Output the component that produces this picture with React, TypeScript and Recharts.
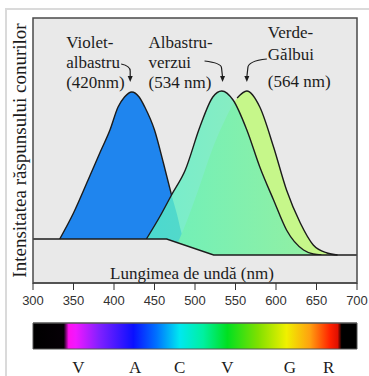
import React from "react";
import {
  ComposedChart,
  Area,
  Line,
  XAxis,
  YAxis,
  CartesianGrid,
  ReferenceArea,
  ReferenceDot,
} from "recharts";

// wavelength (nm) ticks on the axis
const axisTicks = [300, 350, 400, 450, 500, 550, 600, 650, 700];

// response curves (arbitrary intensity units)
const blueNm = [333, 350, 368, 383, 395, 405, 413, 422, 431, 438, 450, 461, 471, 478, 483, 488];
const blueVal = [44, 70, 103, 131, 153, 176, 186, 191, 186, 176, 153, 120, 88, 68, 51, 38];

const greenNm = [440, 457, 471, 488, 506, 522, 533, 547, 564, 580, 597, 613, 634, 646, 656];
const greenVal = [44, 67, 88, 113, 156, 186, 192, 183, 153, 116, 83, 53, 33, 29, 28];

const yellowNm = [472, 488, 504, 521, 537, 552, 564, 580, 597, 613, 630, 646, 663, 676];
const yellowVal = [28, 58, 93, 133, 163, 185, 192, 176, 136, 93, 60, 38, 30, 28];

// floor line under the curves
const baseNm = [300, 465, 523, 700];
const baseVal = [44, 44, 28, 28];

// peak labels
const peakNm = [420, 534, 564];
const peakLines = [
  ["Violet-", "albastru", "(420nm)"],
  ["Albastru-", "verzui", "(534 nm)"],
  ["Verde-", "Gălbui", "(564 nm)"],
];
const arrowTip = 201;

// colour names under the spectrum
const letterNm = [356, 426, 481, 540, 617, 665];
const letters = ["V", "A", "C", "V", "G", "R"];

const spectrumStops: [number, string][] = [
  [300, "#000000"],
  [338, "#060006"],
  [344, "#ff10f0"],
  [353, "#f018ff"],
  [382, "#8020ff"],
  [424, "#0a10ff"],
  [452, "#0070ff"],
  [481, "#00e8f0"],
  [510, "#00f0a0"],
  [540, "#00e020"],
  [578, "#80e000"],
  [613, "#f0f000"],
  [642, "#ffa010"],
  [667, "#ff2000"],
  [676, "#e01000"],
  [681, "#000000"],
  [700, "#000000"],
];

const rows = (nm: number[], v: number[]) => nm.map((x, i) => ({ nm: x, v: v[i] }));

const blueRows = rows(blueNm, blueVal);
const greenRows = rows(greenNm, greenVal);
const yellowRows = rows(yellowNm, yellowVal);
const baseRows = rows(baseNm, baseVal);
// parts of the outlines that are not under the green curve
const blueEdge = blueRows.filter((d) => d.nm <= 471);
const yellowEdge = yellowRows.filter((d) => d.nm >= 552);
const spectrumRows = [
  { nm: 300, v: 1 },
  { nm: 700, v: 1 },
];

const serif = "'Liberation Serif', 'Times New Roman', serif";
const plotBg = "#e9e9e9";
const ink = "#1c1c1c";

// text + arrow placement relative to the arrow tip
const annoLayout = [
  { dx: -64, ys: [-34, -14, 6], start: [-9, -18], knee: [0, -11] },
  { dx: -74, ys: [-34, -14, 6], start: [-18, -21], knee: [-1, -14] },
  { dx: 21, ys: [-44, -22, 5], start: [20, -23], knee: [1, -14] },
];

const PeakNote = (props: any) => {
  const { cx, cy, idx } = props;
  if (cx == null || cy == null) return null;
  const lay = annoLayout[idx];
  const [sx, sy] = lay.start;
  const [kx, ky] = lay.knee;
  return (
    <g>
      {peakLines[idx].map((t, i) => (
        <text
          key={i}
          x={cx + lay.dx}
          y={cy + lay.ys[i]}
          fontFamily={serif}
          fontSize={17}
          fill={ink}
        >
          {t}
        </text>
      ))}
      <path
        d={`M${cx + sx},${cy + sy} Q${cx + kx},${cy + sy + 2} ${cx + kx},${cy + ky} L${cx},${cy - 5}`}
        fill="none"
        stroke={ink}
        strokeWidth={1.2}
      />
      <path d={`M${cx - 2.5},${cy - 6} L${cx + 2.5},${cy - 6} L${cx},${cy} Z`} fill={ink} />
    </g>
  );
};

const App = () => {
  return (
    <div
      style={{
        position: "absolute",
        left: 0,
        top: 0,
        width: 369,
        height: 376,
        background: "#ffffff",
        overflow: "hidden",
      }}
    >
      <div
        style={{
          position: "absolute",
          left: 5,
          top: 8,
          width: 364,
          height: 368,
          borderTop: "2px solid #dadada",
          borderLeft: "2px solid #dadada",
        }}
      />
      <div style={{ position: "absolute", left: 0, top: 0 }}>
        <ComposedChart
          width={369}
          height={320}
          margin={{ top: 18, right: 12, left: 0, bottom: 7 }}
        >
          <defs>
            <linearGradient id="greenFill" x1="0" y1="0" x2="1" y2="0">
              <stop offset="0%" stopColor="#55eec8" />
              <stop offset="100%" stopColor="#88eea8" />
            </linearGradient>
          </defs>
          <CartesianGrid fill={plotBg} horizontal={false} vertical={false} />
          <YAxis
            type="number"
            domain={[0, 265]}
            width={33}
            tick={false}
            axisLine={false}
            tickLine={false}
            label={{
              value: "Intensitatea răspunsului conurilor",
              angle: -90,
              position: "center",
              dx: 3,
              fontFamily: serif,
              fontSize: 19,
              fill: ink,
            }}
          />
          <Area
            data={blueRows}
            dataKey="v"
            type="monotone"
            fill="#1f85ee"
            fillOpacity={1}
            stroke="none"
            isAnimationActive={false}
          />
          <Area
            data={yellowRows}
            dataKey="v"
            type="monotone"
            fill="#c6f78a"
            fillOpacity={1}
            stroke="none"
            isAnimationActive={false}
          />
          <Area
            data={greenRows}
            dataKey="v"
            type="monotone"
            fill="url(#greenFill)"
            fillOpacity={0.8}
            stroke={ink}
            strokeWidth={1.4}
            isAnimationActive={false}
          />
          <Line
            data={blueEdge}
            dataKey="v"
            type="monotone"
            stroke={ink}
            strokeWidth={1.4}
            dot={false}
            isAnimationActive={false}
          />
          <Line
            data={yellowEdge}
            dataKey="v"
            type="monotone"
            stroke={ink}
            strokeWidth={1.4}
            dot={false}
            isAnimationActive={false}
          />
          <Area
            data={baseRows}
            dataKey="v"
            type="linear"
            fill={plotBg}
            fillOpacity={1}
            stroke={ink}
            strokeWidth={1.4}
            isAnimationActive={false}
          />
          <ReferenceArea
            x1={300}
            x2={700}
            y1={0}
            y2={265}
            fill="none"
            stroke="#4a4a4a"
            strokeWidth={1.5}
            fillOpacity={0}
          />
          <XAxis
            type="number"
            dataKey="nm"
            domain={[300, 700]}
            ticks={axisTicks}
            interval={0}
            height={30}
            tickSize={7}
            tickMargin={6}
            axisLine={{ stroke: "#4a4a4a", strokeWidth: 1.5 }}
            tickLine={{ stroke: "#333" }}
            tick={{ fill: "#333", fontSize: 13, fontFamily: "'Liberation Sans', Arial, sans-serif" }}
            label={{
              value: "Lungimea de undă (nm)",
              position: "top",
              offset: 4,
              dx: -3,
              fontFamily: serif,
              fontSize: 17,
              fill: ink,
            }}
          />
          {peakNm.map((nm, i) => (
            <ReferenceDot
              key={nm}
              x={nm}
              y={arrowTip}
              r={0}
              shape={(p: any) => <PeakNote {...p} idx={i} />}
            />
          ))}
        </ComposedChart>
      </div>
      <div style={{ position: "absolute", left: 0, top: 310 }}>
        <ComposedChart
          width={369}
          height={66}
          margin={{ top: 13, right: 12, left: 33, bottom: 0 }}
        >
          <defs>
            <linearGradient id="spectrum" x1="0" y1="0" x2="1" y2="0">
              {spectrumStops.map(([nm, c]) => (
                <stop key={nm} offset={`${((nm - 300) / 400) * 100}%`} stopColor={c} />
              ))}
            </linearGradient>
          </defs>
          <YAxis hide type="number" domain={[0, 1]} />
          <Area
            data={spectrumRows}
            dataKey="v"
            type="linear"
            fill="url(#spectrum)"
            fillOpacity={1}
            stroke="#555"
            strokeWidth={1}
            isAnimationActive={false}
          />
          <ReferenceArea
            x1={300}
            x2={700}
            y1={0}
            y2={1}
            fill="none"
            fillOpacity={0}
            stroke="#555"
            strokeWidth={1}
          />
          <XAxis
            type="number"
            dataKey="nm"
            domain={[300, 700]}
            ticks={letterNm}
            interval={0}
            height={27}
            axisLine={false}
            tickLine={false}
            tickSize={0}
            tickMargin={12}
            tickFormatter={(v: number) => letters[letterNm.indexOf(v)]}
            tick={{ fill: ink, fontSize: 17, fontFamily: serif }}
          />
        </ComposedChart>
      </div>
    </div>
  );
};

export default App;
